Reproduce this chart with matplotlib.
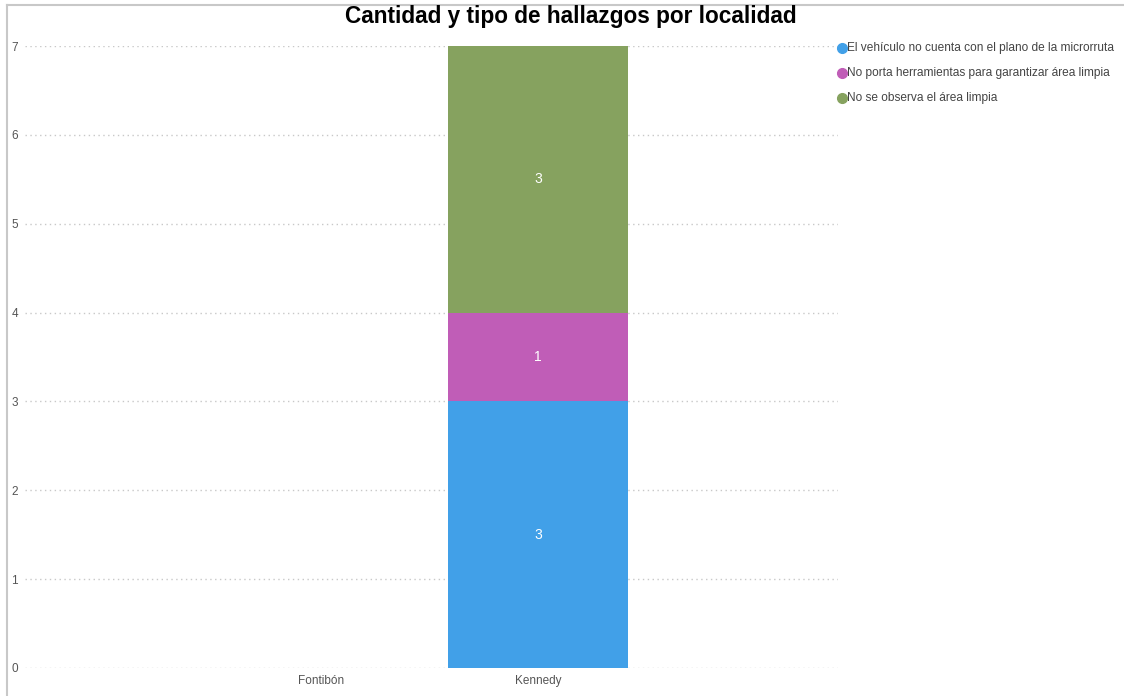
import matplotlib.pyplot as plt
from matplotlib.lines import Line2D
import numpy as np

plt.rcParams['font.family'] = ['Liberation Sans', 'DejaVu Sans']

localidades = ['Fontibón', 'Kennedy']
series = ['El vehículo no cuenta con el plano de la microrruta',
          'No porta herramientas para garantizar área limpia',
          'No se observa el área limpia']
valores = [
    [0, 3],  # plano microrruta
    [0, 1],  # herramientas
    [0, 3],  # área limpia
]
colores = ['#41A0E8', '#C05DB7', '#86A25F']

fig = plt.figure(figsize=(11.24, 6.96), dpi=100)
ax = fig.add_axes([25/1124, 1 - 668/696, (838-25)/1124, (668-46)/696])

x = np.arange(len(localidades))
base = np.zeros(len(localidades))
for nombre, vals, c in zip(series, valores, colores):
    vals = np.array(vals)
    ax.bar(x, vals, bottom=base, width=0.825, color=c, label=nombre, zorder=2)
    for xi, b, v in zip(x, base, vals):
        if v > 0:
            ax.text(xi, b + v/2, str(v), ha='center', va='center', color='white', fontsize=10)
    base += vals

ax.set_xlim(-1.36, 2.38)
ax.set_ylim(0, 7)
ax.set_yticks(range(8))
ax.set_xticks(x)
ax.set_xticklabels(localidades)
ax.tick_params(length=0, labelsize=8.5, colors='#555555')
ax.tick_params(axis='y', pad=5)
ax.tick_params(axis='x', pad=5)
ax.grid(axis='y', linestyle=(0, (1, 2.5)), color='#c8c8c8', linewidth=1, zorder=0)
for s in ax.spines.values():
    s.set_visible(False)

# leyenda manual
for i, (nombre, c) in enumerate(zip(series, colores)):
    y = 1 - (48 + 25*i)/696
    fig.add_artist(Line2D([842/1124], [y], marker='o', markersize=7, color=c, linestyle='none'))
    fig.text(847/1124, y, nombre, fontsize=8.6, color='#444444', va='center')

fig.suptitle('Cantidad y tipo de hallazgos por localidad', x=571/1124, y=1 - 17/696,
             fontsize=16.3, fontweight='bold', va='center')

# borde gris de la captura
fig.add_artist(Line2D([7/1124, 7/1124], [0, 1 - 5/696], color='#c8c8c8', linewidth=1.5))
fig.add_artist(Line2D([7/1124, 1], [1 - 5/696, 1 - 5/696], color='#c8c8c8', linewidth=1.5))

fig.savefig('out.png', dpi=100)
